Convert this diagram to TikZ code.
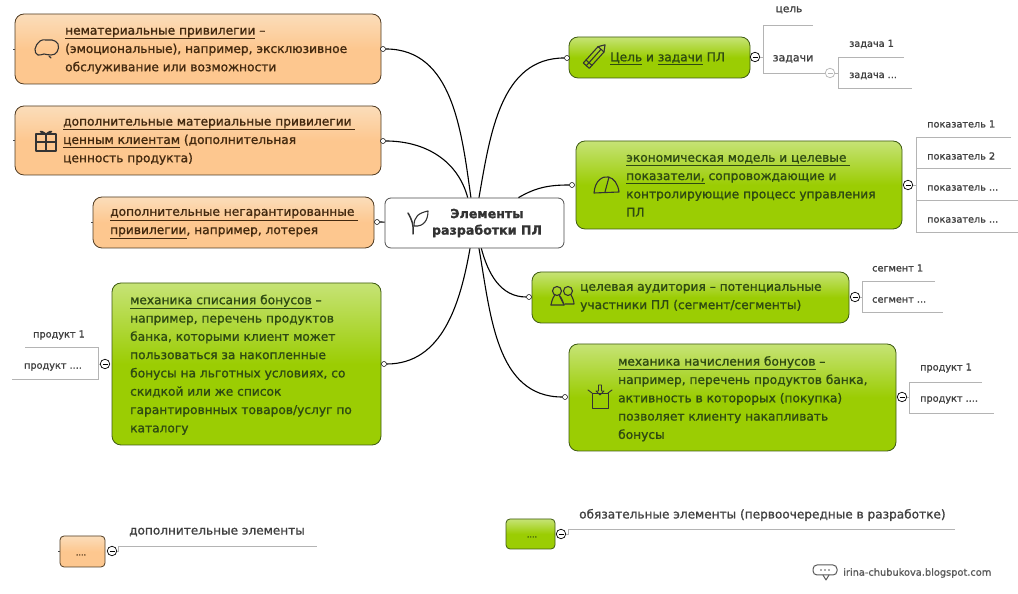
\documentclass[tikz,border=0pt]{standalone}
\usepackage{fontspec}
\setmainfont{DejaVu Sans}[RawFeature={embolden=1.2}]
\usetikzlibrary{arrows.meta,positioning,calc}
\definecolor{grTop}{HTML}{C6E376}
\definecolor{grBase}{HTML}{9BCD03}
\definecolor{grEdge}{HTML}{3E5A12}
\definecolor{grInk}{HTML}{2E4A12}
\definecolor{orTop}{HTML}{FBDDBA}
\definecolor{orBase}{HTML}{FDC78F}
\definecolor{orEdge}{HTML}{4F3B22}
\definecolor{orInk}{HTML}{43290F}
\definecolor{twigGray}{HTML}{B4B4B4}
\newcommand{\mapsize}{\fontsize{12.2}{18.3}\selectfont}
\newcommand{\leafsize}{\fontsize{9.7}{12}\selectfont}
\newcommand{\threedots}{...}

\begin{document}
\begin{tikzpicture}[x=1pt,y=1pt,
    grbox/.style={draw=grEdge,line width=0.8pt,rounded corners=9pt,top color=grTop,bottom color=grBase,middle color=grBase},
    orbox/.style={draw=orEdge,line width=0.8pt,rounded corners=9pt,top color=orTop,bottom color=orBase,middle color=orBase},
    grtext/.style={anchor=west,inner sep=0pt,yshift=-0.8pt,align=left,font=\mapsize,text=grInk},
    ortext/.style={anchor=west,inner sep=0pt,yshift=-0.8pt,align=left,font=\mapsize,text=orInk},
    leaftext/.style={inner sep=0pt,font=\leafsize,text=black!75},
    conn/.style={line width=1.1pt,black},
    twig/.style={draw=twigGray,line width=0.7pt},
    dotmark/.style={circle,draw=black,fill=white,line width=0.5pt,inner sep=0pt,minimum size=5pt},
    minusmark/.style={circle,draw=black,fill=white,line width=0.7pt,inner sep=0pt,minimum size=9.5pt,
        path picture={\draw[line width=0.8pt] (path picture bounding box.center) +(-2.5,0) -- +(2.5,0);}},
    icon/.style={line width=1.1pt,black!80,line cap=round,line join=round}
]
    \useasboundingbox (0,0) rectangle (1018,594);

    % Connectors from the root
    \node[draw=black!70,fill=white,line width=0.8pt,rounded corners=6pt,minimum width=179pt,minimum height=50pt] (root) at (474.5,371) {};
    \node[anchor=center,inner sep=0pt,align=center,font=\fontsize{12.6}{16.5}\selectfont\bfseries,text=black!80] (tRoot) at (487,371) {Элементы\\разработки ПЛ};

    % Orange boxes
    \node[orbox,minimum width=366pt,minimum height=70pt] (bNon) at (198,545) {};
    \node[ortext] (tNon) at (65,544) {\underline{нематериальные привилегии} --\\(эмоциональные), например, эксклюзивное\\обслуживание или возможности};
    \node[orbox,minimum width=366pt,minimum height=69pt] (bMat) at (198,453.5) {};
    \node[ortext] (tMat) at (63,453) {\underline{дополнительные материальные привилегии\ }\\\underline{ценным клиентам} (дополнительная\\ценность продукта)};
    \node[orbox,minimum width=281pt,minimum height=51pt] (bLot) at (233.5,371.5) {};
    \node[ortext] (tLot) at (110,371) {\underline{дополнительные негарантированные\ }\\\underline{привилегии}, например, лотерея};

    % Green boxes
    \node[grbox,minimum width=269pt,minimum height=162pt] (bOut) at (246.5,230) {};
    \node[grtext] (tOut) at (130,230) {\underline{механика списания бонусов} --\\например, перечень продуктов\\банка, которыми клиент может\\пользоваться за накопленные\\бонусы на льготных условиях, со\\скидкой или же список\\гарантировнных товаров/услуг по\\каталогу};
    \node[grbox,minimum width=181pt,minimum height=41pt] (bGoal) at (659.5,536.5) {};
    \node[grtext] (tGoal) at (610,536) {\underline{Цель} и \underline{задачи} ПЛ};
    \node[grbox,minimum width=326pt,minimum height=88pt] (bEco) at (739,409) {};
    \node[grtext] (tEco) at (626,409) {\underline{экономическая модель и целевые\ }\\\underline{показатели,} сопровождающие и\\контролирующие процесс управления\\ПЛ};
    \node[grbox,minimum width=317pt,minimum height=51pt] (bAud) at (690.5,296.5) {};
    \node[grtext] (tAud) at (580,297) {целевая аудитория -- потенциальные\\участники ПЛ (сегмент/сегменты)};
    \node[grbox,minimum width=327pt,minimum height=107pt] (bIn) at (732.5,196.5) {};
    \node[grtext] (tIn) at (618,196) {\underline{механика начисления бонусов} --\\например, перечень продуктов банка,\\активность в которорых (покупка)\\позволяет клиенту накапливать\\бонусы};

    % Link dots
    \node[dotmark] (dNon) at (383,545) {};
    \node[dotmark] (dMat) at (383,453) {};
    \node[dotmark] (dLot) at (377,372) {};
    \node[dotmark] (dOut) at (384,230) {};
    \node[dotmark] (dGoal) at (567,536) {};
    \node[dotmark] (dEco) at (572,409) {};
    \node[dotmark] (dAud) at (529,297) {};
    \node[dotmark] (dIn) at (565,197) {};

    \draw[conn] (dNon) to[out=0,in=98] (root);
    \draw[conn] (dMat) to[out=0,in=105] (root);
    \draw[conn] (dLot) -- (root);
    \draw[conn] (dOut) to[out=0,in=-100] (root);
    \draw[conn] (dGoal) to[out=180,in=80] (root);
    \draw[conn] (dEco) to[out=180,in=30] (root);
    \draw[conn] (dAud) to[out=180,in=-75] (root);
    \draw[conn] (dIn) to[out=180,in=-80] (root);

    % Collapse marks
    \node[minusmark] (mOut) at (105,230) {};
    \node[minusmark] (mGoal) at (755,537) {};
    \node[minusmark,draw=twigGray] (mTask) at (830,521) {};
    \node[minusmark] (mEco) at (908,409) {};
    \node[minusmark] (mAud) at (855,297) {};
    \node[minusmark] (mIn) at (902,197) {};
    \node[minusmark] (mOr) at (112,43) {};
    \node[minusmark] (mGr) at (561,60) {};

    % Goals and tasks
    \coordinate (gA) at (763,569);
    \coordinate (gB) at (763,521);
    \draw[twig] (813,569) -- (gA) -- (gB) -- (mTask);
    \draw[twig] (mGoal) -- (763,537);
    \node[leaftext,font=\fontsize{10.5}{12}\selectfont] (lGoal) at (789,584) {цель};
    \node[leaftext,font=\fontsize{11}{12}\selectfont] (lTask) at (793,535) {задачи};
    \draw[twig] (904,537) -- (838,537) -- (838,506) -- (912,506);
    \draw[twig] (mTask) -- (838,521);
    \node[leaftext,anchor=west] (lTaskA) at (849,550) {задача 1};
    \node[leaftext,anchor=west] (lTaskB) at (849,518) {задача ...};

    % Indicators
    \draw[twig] (916,457) -- (916,362);
    \draw[twig] (mEco) -- (916,409);
    \foreach \y/\e in {457/1011,426/1011,394/1018,362/1018} { \draw[twig] (916,\y) -- (\e,\y); }
    \foreach \n/\y/\t in {a/470/1,b/438/2,c/406/\threedots,d/374/\threedots} {
        \node[leaftext,anchor=west] (lEco\n) at (927,\y) {показатель \t};
    }

    % Segments
    \draw[twig] (935,313) -- (862,313) -- (862,282) -- (943,282);
    \draw[twig] (mAud) -- (862,297);
    \node[leaftext,anchor=west] (lAudA) at (872,326) {сегмент 1};
    \node[leaftext,anchor=west] (lAudB) at (872,294) {сегмент ...};

    % Products on the right
    \draw[twig] (982,212) -- (909,212) -- (909,181) -- (994,181);
    \draw[twig] (mIn) -- (909,197);
    \node[leaftext,anchor=west] (lInA) at (920,226) {продукт 1};
    \node[leaftext,anchor=west] (lInB) at (920,194) {продукт ....};

    % Products on the left
    \draw[twig] (25,247) -- (98,247) -- (98,215) -- (12,215);
    \draw[twig] (mOut) -- (98,230);
    \node[leaftext] (lOutA) at (59,259) {продукт 1};
    \node[leaftext] (lOutB) at (53,227) {продукт ....};

    % Legend
    \node[orbox,rounded corners=4pt,minimum width=45pt,minimum height=31pt] (kOr) at (82.5,42.5) {};
    \node[inner sep=0pt,font=\fontsize{8}{10}\selectfont,text=orInk] (tkOr) at (81,39) {....};
    \node[grbox,rounded corners=4pt,minimum width=49pt,minimum height=30pt] (kGr) at (530.5,60) {};
    \node[inner sep=0pt,font=\fontsize{8}{10}\selectfont,text=grInk] (tkGr) at (532,57) {....};
    \draw[twig] (mOr) -- (118,43) -- (118,48) -- (317,48);
    \draw[twig] (mGr) -- (568,60) -- (568,65) -- (955,65);
    \node[anchor=west,inner sep=0pt,font=\fontsize{12.1}{14}\selectfont,text=black!75] (lOr) at (129,62) {дополнительные элементы};
    \node[anchor=west,inner sep=0pt,font=\fontsize{12.1}{14}\selectfont,text=black!75] (lGr) at (579,79) {обязательные элементы (первоочередные в разработке)};
    \node[anchor=west,inner sep=0pt,font=\fontsize{9.8}{12}\selectfont,text=black!65] (lSite) at (843,21) {irina-chubukova.blogspot.com};

    % Stubs on the far side
    \foreach \b in {bNon,bMat,bLot,kOr} { \draw[black!70,line width=0.6pt] (\b.west) -- ++(-2,0); }

    % Icons
    \begin{scope}[shift={(46,545)},icon]
        \draw plot[smooth cycle,tension=0.8] coordinates {(-11,0) (-6,8) (0,9) (6,9) (12,5) (11,-3) (5,-6) (-2,-5) (-8,-6)};
        \draw (3,-7) -- (5,-9);
    \end{scope}
    \begin{scope}[shift={(46,453)},icon]
        \draw (-10,-10) rectangle (10,7);
        \draw (-10,-1) -- (10,-1) (0,-10) -- (0,7);
        \draw (0,7) .. controls (-7,13) and (-8,8) .. (0,7) .. controls (8,8) and (7,13) .. (0,7);
    \end{scope}
    \begin{scope}[shift={(416,372)},icon]
        \draw[line width=1.5pt] (-3,-12) .. controls (-2,-3) and (-4,2) .. (-8,9);
        \draw (-2,-4) .. controls (-2,6) and (3,9) .. (12,11) .. controls (12,2) and (8,-5) .. (-2,-4);
    \end{scope}
    \begin{scope}[shift={(595,538)},icon,rotate=-42]
        \draw (-4,-13) -- (-4,9) -- (0,15) -- (4,9) -- (4,-13) -- cycle;
        \draw (-4,9) -- (4,9) (0,-13) -- (0,9) (-4,-9) -- (4,-9);
    \end{scope}
    \begin{scope}[shift={(606,408)},icon]
        \draw (-12,-7) .. controls (-11,6) and (-3,10) .. (2,9) .. controls (8,8) and (12,2) .. (13,-6) -- cycle;
        \draw (-1,-6) -- (3,9);
    \end{scope}
    \begin{scope}[shift={(562,297)},icon]
        \draw (-5,6) circle (4.5pt) (6,6) circle (4.5pt);
        \draw (-11,-8) .. controls (-10,-2) and (-8,1) .. (-7,2) (-3,2) .. controls (0,-1) and (1,-5) .. (2,-8) -- cycle;
        \draw (-11,-8) -- (2,-8) (9,2) .. controls (11,-1) and (12,-5) .. (12,-7) -- (3,-7);
    \end{scope}
    \begin{scope}[shift={(600,196)},icon,line width=0.9pt]
        \draw (-8,-10) rectangle (8,5);
        \draw (-8,5) -- (-12,8) (8,5) -- (12,8);
        \draw (-4,7) -- (0,3) -- (4,7) -- (1.5,7) -- (1.5,13) -- (-1.5,13) -- (-1.5,7) -- cycle;
    \end{scope}
    \begin{scope}[shift={(825,23)},icon,line width=1pt,black!65]
        \draw[rounded corners=4pt] (-12,-4) rectangle (12,6);
        \fill (-4,1) circle (0.9pt) (0,1) circle (0.9pt) (4,1) circle (0.9pt);
        \draw (-2,-4) -- (1,-9) -- (4,-4);
    \end{scope}
\end{tikzpicture}
\end{document}
